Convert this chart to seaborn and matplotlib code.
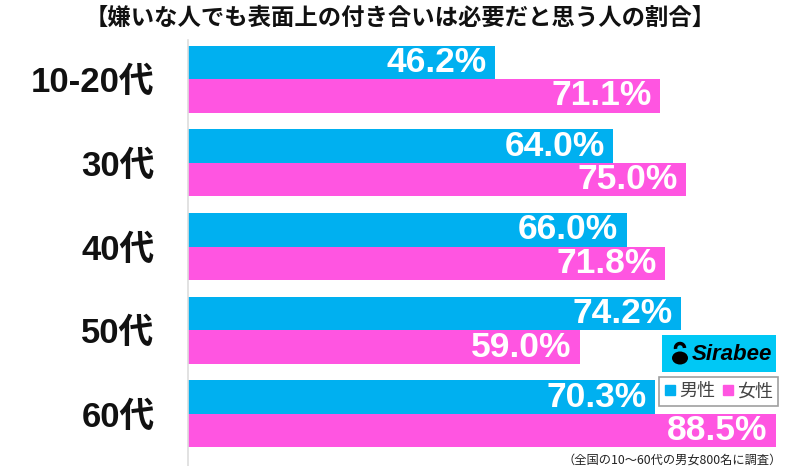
import matplotlib
matplotlib.use("Agg")
import matplotlib.pyplot as plt
import seaborn as sns
import pandas as pd
from matplotlib.patches import Rectangle, Ellipse, Arc
from matplotlib.lines import Line2D

categories = ["10-20代", "30代", "40代", "50代", "60代"]
male = [46.2, 64.0, 66.0, 74.2, 70.3]
female = [71.1, 75.0, 71.8, 59.0, 88.5]
series = ["男性", "女性"]
title = "【嫌いな人でも表面上の付き合いは必要だと思う人の割合】"
note = "（全国の10～60代の男女800名に調査）"

BLUE = "#00B0F0"
PINK = "#FF55E1"

df = pd.DataFrame({
    "cat": categories * 2,
    "val": male + female,
    "sex": [series[0]] * len(categories) + [series[1]] * len(categories),
})

sns.set_theme(style="white")
plt.rcParams["font.family"] = ["Liberation Sans", "Noto Sans CJK JP", "DejaVu Sans"]

W, H = 800, 466
fig = plt.figure(figsize=(8, 4.66), dpi=100)
ax = fig.add_axes([188 / W, 0, 1 - 188 / W, (466 - 40) / H])

sns.barplot(data=df, y="cat", x="val", hue="sex", order=categories, hue_order=series,
            palette=[BLUE, PINK], orient="h", width=0.8, saturation=1, ax=ax, legend=False,
            linewidth=0, edgecolor="none")

ax.set_xlim(0, (W - 188) / 6.645)
ax.set_ylim(4.621, -0.466)
ax.set_xlabel("")
ax.set_ylabel("")
ax.set_xticks([])
for s in ["top", "right", "bottom"]:
    ax.spines[s].set_visible(False)
ax.spines["left"].set_color("#dddddd")
ax.spines["left"].set_linewidth(1.2)
ax.tick_params(axis="y", length=0, pad=24)
for lab in ax.get_yticklabels():
    lab.set_fontsize(25)
    lab.set_fontweight("bold")
    lab.set_color("#111111")

for i, (m, f) in enumerate(zip(male, female)):
    for v, off in ((m, -0.2), (f, 0.2)):
        ax.annotate(f"{v:.1f}%", xy=(v, i + off), xytext=(-6, 0), textcoords="offset points",
                    ha="right", va="center", color="white", fontsize=25.5, fontweight="bold",
                    family=["Liberation Sans", "DejaVu Sans"])

fig.text(0.5, 1 - 18 / H, title, ha="center", va="center", fontsize=16.8, fontweight="bold",
         family=["Noto Sans CJK JP", "DejaVu Sans"], color="#111111")

fig.text(782 / W, 1 - 460 / H, note, ha="right", va="center", fontsize=8.8,
         family=["Noto Sans CJK JP", "DejaVu Sans"], color="#222222")

# logo
fig.patches.append(Rectangle((662 / W, 1 - 372 / H), 114 / W, 37 / H, transform=fig.transFigure,
                             facecolor="#00C8F5", edgecolor="none", zorder=5))
fig.patches.append(Ellipse((680 / W, 1 - 358 / H), 16 / W, 13 / H, transform=fig.transFigure,
                           facecolor="black", edgecolor="none", zorder=6))
fig.patches.append(Arc((680 / W, 1 - 348 / H), 9 / W, 9 / H, theta1=0, theta2=200,
                       transform=fig.transFigure, edgecolor="black", linewidth=2.5, zorder=6))
fig.text(692 / W, 1 - 355 / H, "Sirabee", ha="left", va="center", fontsize=16, fontweight="bold",
         style="italic", color="black", zorder=7, family=["Liberation Sans", "DejaVu Sans"])

handles = [Line2D([0], [0], marker="s", linestyle="", markersize=6.5, markerfacecolor=c,
                  markeredgecolor=c) for c in (BLUE, PINK)]
leg = fig.legend(handles, series, loc="upper right", bbox_to_anchor=(778 / W, 1 - 377 / H),
                 ncol=2, frameon=True, fancybox=False, handlelength=0.6,
                 handletextpad=0.2, columnspacing=0.4, borderpad=0.3, borderaxespad=0,
                 prop={"family": ["Noto Sans CJK JP", "DejaVu Sans"], "size": 13})
leg.get_frame().set_edgecolor("#888888")
leg.get_frame().set_linewidth(1.2)
for t in leg.get_texts():
    t.set_color("#444444")

fig.savefig("out.png", dpi=100)
